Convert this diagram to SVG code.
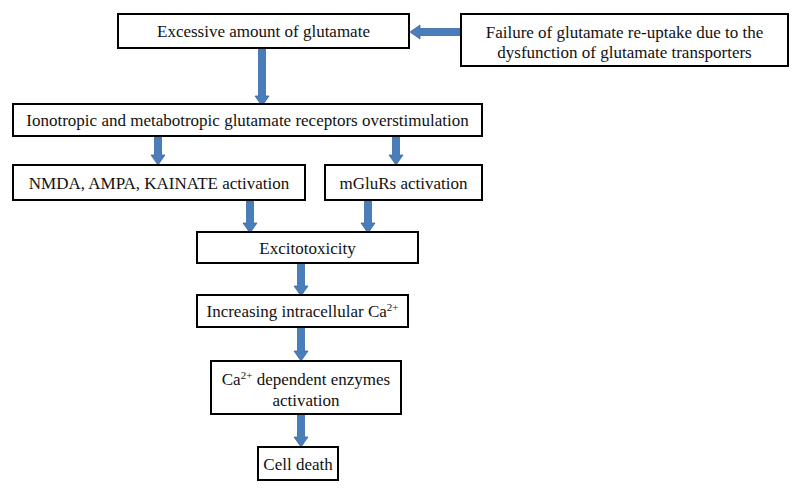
<svg xmlns="http://www.w3.org/2000/svg" width="800" height="493" viewBox="0 0 800 493">
<style>
.box{fill:#fff;stroke:#000;stroke-width:2}
.t{font-family:"Liberation Serif","Times New Roman",serif;font-size:17px;fill:#111;text-anchor:middle}
.sup{font-size:11px}
.arr{fill:#4a7ebb;stroke:#3a6aa3;stroke-width:0.8}
</style>
<rect width="800" height="493" fill="#fff"/>
<g id="connectors">
<polygon class="arr" points="461,28.5 461,35.5 420,35.5 420,39 410,32 420,25 420,28.5"/>
<polygon class="arr" points="258.5,48 265.5,48 265.5,96 269,96 262,106 255,96 258.5,96"/>
<polygon class="arr" points="154.5,136 161.5,136 161.5,155 165,155 158,165 151,155 154.5,155"/>
<polygon class="arr" points="392.5,136 399.5,136 399.5,155 403,155 396,165 389,155 392.5,155"/>
<polygon class="arr" points="246.5,200 253.5,200 253.5,223 257,223 250,233 243,223 246.5,223"/>
<polygon class="arr" points="364.5,200 371.5,200 371.5,223 375,223 368,233 361,223 364.5,223"/>
<polygon class="arr" points="297.5,263 304.5,263 304.5,286 308,286 301,296 294,286 297.5,286"/>
<polygon class="arr" points="297.5,327 304.5,327 304.5,351 308,351 301,361 294,351 297.5,351"/>
<polygon class="arr" points="297.5,414 304.5,414 304.5,437 308,437 301,447 294,437 297.5,437"/>
</g>
<g id="n1"><rect class="box" x="118" y="14" width="291" height="34"/><text class="t" x="263.5" y="37">Excessive amount of glutamate</text></g>
<g id="n2"><rect class="box" x="461" y="14" width="327" height="52"/><text class="t" x="624.5" y="37.5">Failure of glutamate re-uptake due to the</text><text class="t" x="624.5" y="57.5">dysfunction of glutamate transporters</text></g>
<g id="n3"><rect class="box" x="13" y="104" width="469" height="32"/><text class="t" x="247.5" y="126">Ionotropic and metabotropic glutamate receptors overstimulation</text></g>
<g id="n4"><rect class="box" x="13" y="165" width="292" height="35"/><text class="t" x="159" y="188.5">NMDA, AMPA, KAINATE activation</text></g>
<g id="n5"><rect class="box" x="325" y="165" width="157" height="35"/><text class="t" x="403.5" y="188.5">mGluRs activation</text></g>
<g id="n6"><rect class="box" x="197" y="232" width="221" height="31"/><text class="t" x="307.5" y="253.5">Excitotoxicity</text></g>
<g id="n7"><rect class="box" x="197" y="295" width="211" height="32"/><text class="t" x="302.5" y="317">Increasing intracellular Ca<tspan class="sup" dy="-6">2+</tspan></text></g>
<g id="n8"><rect class="box" x="211" y="361" width="190" height="53"/><text class="t" x="306" y="384.5">Ca<tspan class="sup" dy="-6">2+</tspan><tspan dy="6"> dependent enzymes</tspan></text><text class="t" x="306" y="406">activation</text></g>
<g id="n9"><rect class="box" x="258" y="447" width="80" height="33"/><text class="t" x="298" y="469.5">Cell death</text></g>
</svg>
